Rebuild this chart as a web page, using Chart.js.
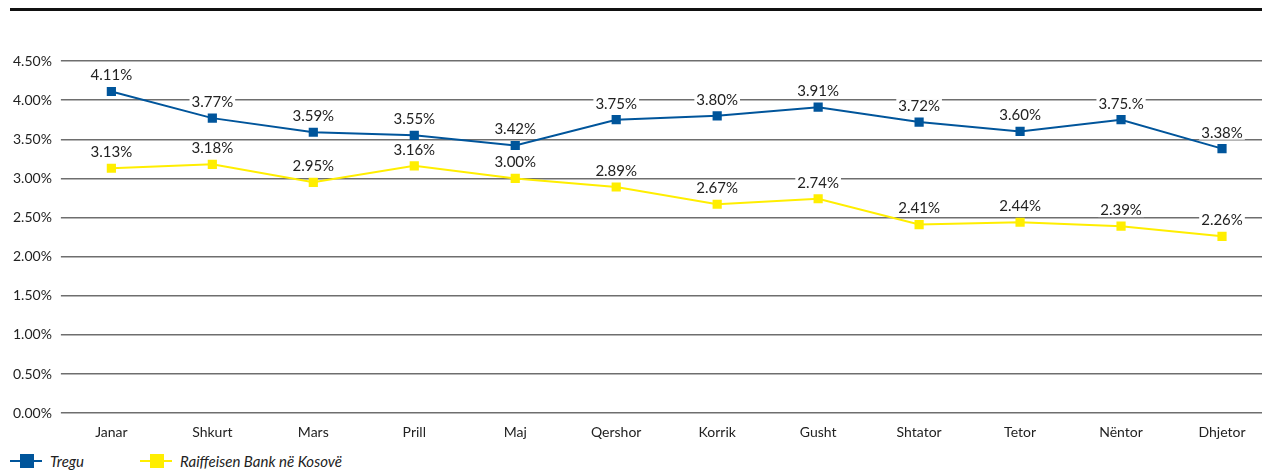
<!DOCTYPE html>
<html>
<head>
<meta charset="utf-8">
<script src="https://cdn.jsdelivr.net/npm/chart.js@4.4.0/dist/chart.umd.min.js"></script>
<style>
    html, body { margin: 0; padding: 0; background: #fff; overflow: hidden; width: 1262px; height: 470px; }
    #topRule { position: absolute; left: 10px; top: 8px; width: 1252px; height: 3px; background: #111; }
    #wrap { position: absolute; left: 0; top: 0; width: 1279px; height: 444px; }
    #legend { position: absolute; left: 10px; top: 452px; font: italic 15px 'Lato', sans-serif; color: #222; display: flex; }
    .item { display: flex; align-items: center; margin-right: 56px; }
    .swatch { position: relative; width: 32px; height: 14px; margin-right: 8px; }
    .swatch .ln { position: absolute; left: 0; right: 0; top: 6px; height: 2px; }
    .swatch .sq { position: absolute; left: 10px; top: 0; width: 14px; height: 14px; }
</style>
</head>
<body>
<div id="topRule"></div>
<div id="wrap"><canvas id="chart"></canvas></div>
<div id="legend">
    <div class="item"><div class="swatch"><div class="ln" style="background:#00559b"></div><div class="sq" style="background:#00559b"></div></div>Tregu</div>
    <div class="item"><div class="swatch"><div class="ln" style="background:#ffee00"></div><div class="sq" style="background:#ffee00"></div></div>Raiffeisen Bank në Kosovë</div>
</div>
<script>
// ── Data ─────────────────────────────────────────────────────────────────────
const months = ['Janar', 'Shkurt', 'Mars', 'Prill', 'Maj', 'Qershor', 'Korrik', 'Gusht', 'Shtator', 'Tetor', 'Nëntor', 'Dhjetor'];
const tregu = [4.11, 3.77, 3.59, 3.55, 3.42, 3.75, 3.80, 3.91, 3.72, 3.60, 3.75, 3.38];
const raiffeisen = [3.13, 3.18, 2.95, 3.16, 3.00, 2.89, 2.67, 2.74, 2.41, 2.44, 2.39, 2.26];
const treguLabels = ['4.11%', '3.77%', '3.59%', '3.55%', '3.42%', '3.75%', '3.80%', '3.91%', '3.72%', '3.60%', '3.75.%', '3.38%'];
const raiffeisenLabels = ['3.13%', '3.18%', '2.95%', '3.16%', '3.00%', '2.89%', '2.67%', '2.74%', '2.41%', '2.44%', '2.39%', '2.26%'];

const BLUE = '#00559b';
const YELLOW = '#ffee00';
const FONT = "'Lato', 'DejaVu Sans', sans-serif";

// value labels with white box behind, above each point
const valueLabels = {
    id: 'valueLabels',
    afterDatasetsDraw(chart) {
        const ctx = chart.ctx;
        ctx.save();
        ctx.font = '15px ' + FONT;
        ctx.textAlign = 'center';
        ctx.textBaseline = 'middle';
        chart.data.datasets.forEach((ds, i) => {
            const meta = chart.getDatasetMeta(i);
            meta.data.forEach((pt, j) => {
                const txt = ds.valueText[j];
                const w = ctx.measureText(txt).width;
                const y = pt.y - 16;
                ctx.fillStyle = '#fff';
                ctx.fillRect(pt.x - w / 2 - 2, y - 7, w + 4, 14);
                ctx.fillStyle = '#222';
                ctx.fillText(txt, pt.x, y);
            });
        });
        ctx.restore();
    }
};

new Chart(document.getElementById('chart'), {
    type: 'line',
    data: {
        labels: months,
        datasets: [
            {
                label: 'Tregu',
                data: tregu,
                valueText: treguLabels,
                borderColor: BLUE,
                backgroundColor: BLUE,
                borderWidth: 2,
                pointStyle: 'rect',
                pointRadius: 6.5,
                pointBorderWidth: 0,
                tension: 0
            },
            {
                label: 'Raiffeisen Bank në Kosovë',
                data: raiffeisen,
                valueText: raiffeisenLabels,
                borderColor: YELLOW,
                backgroundColor: YELLOW,
                borderWidth: 2,
                pointStyle: 'rect',
                pointRadius: 6.5,
                pointBorderWidth: 0,
                tension: 0
            }
        ]
    },
    options: {
        responsive: true,
        maintainAspectRatio: false,
        animation: false,
        layout: { padding: { top: 61, left: 4, right: 0, bottom: 0 } },
        plugins: { legend: { display: false }, tooltip: { enabled: false } },
        scales: {
            x: {
                offset: true,
                grid: { display: false },
                border: { display: false },
                ticks: { color: '#222', font: { family: FONT, size: 14 }, padding: 3, maxRotation: 0 }
            },
            y: {
                min: 0,
                max: 4.5,
                grid: { color: '#6e6e6e', lineWidth: 1.5, tickLength: 0 },
                border: { display: false },
                ticks: {
                    stepSize: 0.5,
                    color: '#222',
                    font: { family: FONT, size: 14 },
                    padding: 9,
                    callback: v => v.toFixed(2) + '%'
                }
            }
        }
    },
    plugins: [valueLabels]
});
</script>
</body>
</html>
